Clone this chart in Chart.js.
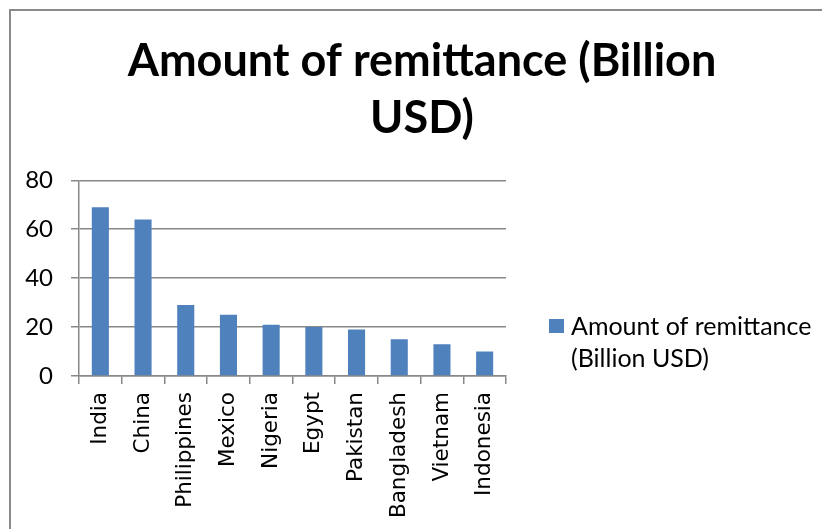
<!DOCTYPE html>
<html>
<head>
<meta charset="utf-8">
<script src="https://cdn.jsdelivr.net/npm/chart.js@4/dist/chart.umd.min.js"></script>
<style>
  html, body { margin: 0; padding: 0; background: #fff; }
  #wrap { width: 822px; height: 529px; }
</style>
</head>
<body>
<div id="wrap"><canvas id="myChart" width="822" height="529"></canvas></div>
<script>
var countries = ['India', 'China', 'Philippines', 'Mexico', 'Nigeria', 'Egypt', 'Pakistan', 'Bangladesh', 'Vietnam', 'Indonesia'];
var remittance = [69, 64, 29, 25, 21, 20, 19, 15, 13, 10];
var seriesName = 'Amount of remittance (Billion USD)';
var titleLines = ['Amount of remittance (Billion', 'USD)'];
var legendLines = ['Amount of remittance', '(Billion USD)'];

var barBlue = '#4F81BD';
var gridGrey = '#888888';

// frame line along the top and left edge
var frame = {
  id: 'frame',
  beforeDraw: function (chart) {
    var c = chart.ctx;
    c.save();
    c.strokeStyle = '#8a8a8a';
    c.lineWidth = 2;
    c.beginPath();
    c.moveTo(10, chart.height);
    c.lineTo(10, 10);
    c.lineTo(chart.width, 10);
    c.stroke();
    c.restore();
  }
};

// legend on the right, wrapped onto two lines
var sideLegend = {
  id: 'sideLegend',
  afterDraw: function (chart) {
    var c = chart.ctx;
    var ds = chart.data.datasets[0];
    c.save();
    c.fillStyle = ds.backgroundColor;
    c.fillRect(549, 319, 15, 14);
    c.fillStyle = '#000';
    c.font = '25px Lato';
    c.textBaseline = 'alphabetic';
    c.textAlign = 'left';
    legendLines.forEach(function (line, i) {
      c.fillText(line, 571, 335 + i * 32);
    });
    c.restore();
  }
};

var ctx = document.getElementById('myChart').getContext('2d');
var myChart = new Chart(ctx, {
  type: 'bar',
  data: {
    labels: countries,
    datasets: [{
      label: seriesName,
      data: remittance,
      backgroundColor: barBlue,
      barPercentage: 0.4,
      categoryPercentage: 1.0
    }]
  },
  options: {
    responsive: false,
    animation: false,
    layout: { padding: { left: 22, right: 0, top: 0, bottom: 0 } },
    scales: {
      x: {
        grid: {
          offset: true,
          drawOnChartArea: false,
          color: gridGrey,
          lineWidth: 1.5,
          tickLength: 8
        },
        border: { color: gridGrey, width: 1.5 },
        ticks: {
          color: '#000',
          font: { family: 'DejaVu Sans', size: 21.5 },
          minRotation: 90,
          maxRotation: 90,
          padding: 8
        },
        afterFit: function (scale) { scale.height = 153; }
      },
      y: {
        min: 0,
        max: 80,
        ticks: {
          stepSize: 20,
          color: '#000',
          font: { family: 'Lato', size: 24 },
          padding: 18
        },
        grid: { color: gridGrey, lineWidth: 1.5, tickLength: 8 },
        border: { color: gridGrey, width: 1.5 },
        afterFit: function (scale) { scale.width = 57; }
      },
      // empty axis that keeps room for the legend on the right
      side: {
        type: 'linear',
        position: 'right',
        display: true,
        ticks: { display: false },
        grid: { display: false },
        border: { display: false },
        afterFit: function (scale) { scale.width = 316; }
      }
    },
    plugins: {
      legend: { display: false },
      tooltip: { enabled: false },
      title: {
        display: true,
        text: titleLines,
        color: '#000',
        font: { family: 'Lato', size: 45, weight: 'bold', lineHeight: 1.27 },
        padding: { top: 33, bottom: 33 }
      }
    }
  },
  plugins: [frame, sideLegend]
});
</script>
</body>
</html>
